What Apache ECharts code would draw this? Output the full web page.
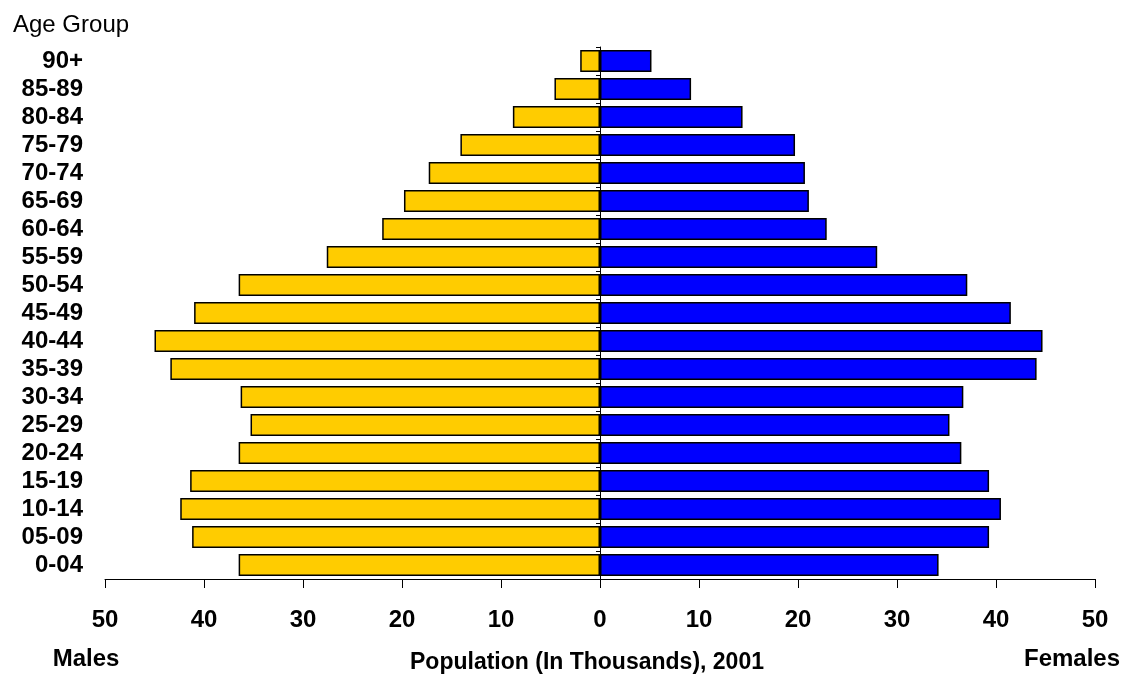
<!DOCTYPE html>
<html>
<head>
<meta charset="utf-8">
<script src="https://cdn.jsdelivr.net/npm/echarts@6/dist/echarts.min.js"></script>
<style>
html,body{margin:0;padding:0;background:#fff;}
#chart{width:1125px;height:679px;}
</style>
</head>
<body>
<div id="chart"></div>
<script>
// Age groups, bottom to top
const ageGroups = ['0-04','05-09','10-14','15-19','20-24','25-29','30-34','35-39','40-44','45-49','50-54','55-59','60-64','65-69','70-74','75-79','80-84','85-89','90+'];
// Population in thousands, 2001
const males   = [36.5, 41.2, 42.4, 41.4, 36.5, 35.3, 36.3, 43.4, 45.0, 41.0, 36.5, 27.6, 22.0, 19.8, 17.3, 14.1, 8.8, 4.6, 2.0];
const females = [34.2, 39.3, 40.5, 39.3, 36.5, 35.3, 36.7, 44.1, 44.7, 41.5, 37.1, 28.0, 22.9, 21.1, 20.7, 19.7, 14.4, 9.2, 5.2];
const xTicks = [-50, 50, 10]; // min, max, interval

const FONT = '"Liberation Sans", Arial, sans-serif';
const chart = echarts.init(document.getElementById('chart'), null, {renderer: 'canvas'});

const option = {
  backgroundColor: '#ffffff',
  animation: false,
  grid: {left: 105, right: 30, top: 47, bottom: 96, containLabel: false},
  xAxis: {
    type: 'value',
    min: xTicks[0], max: xTicks[1], interval: xTicks[2],
    name: 'Population (In Thousands), 2001',
    nameLocation: 'middle',
    nameGap: 72,
    nameTextStyle: {fontFamily: FONT, fontWeight: 'bold', fontSize: 23, color: '#000', padding: [0, 26, 0, 0]},
    axisLine: {show: true, onZero: false, lineStyle: {color: '#000', width: 1}},
    axisTick: {show: true, length: 9, lineStyle: {color: '#000', width: 1}},
    axisLabel: {
      margin: 29,
      fontFamily: FONT, fontWeight: 'bold', fontSize: 24, color: '#000',
      formatter: v => String(Math.abs(v))
    },
    splitLine: {show: false}
  },
  yAxis: [
    {
      type: 'category',
      data: ageGroups,
      position: 'left',
      axisLine: {show: false, onZero: false},
      axisTick: {show: false},
      axisLabel: {interval: 0, margin: 22, fontFamily: FONT, fontWeight: 'bold', fontSize: 24, color: '#000', hideOverlap: false},
      splitLine: {show: false}
    },
    {
      type: 'category',
      data: ageGroups,
      position: 'left',
      axisLine: {show: true, onZero: true, lineStyle: {color: '#000', width: 1}},
      axisTick: {show: true, length: 4, lineStyle: {color: '#000', width: 1}},
      axisLabel: {show: false},
      splitLine: {show: false}
    }
  ],
  series: [
    {
      name: 'Males',
      type: 'bar',
      stack: 'pop',
      yAxisIndex: 0,
      barWidth: '79%',
      data: males.map(v => -v),
      itemStyle: {color: '#FFCC00', borderColor: '#000', borderWidth: 1.5}
    },
    {
      name: 'Females',
      type: 'bar',
      stack: 'pop',
      yAxisIndex: 0,
      barWidth: '79%',
      data: females,
      itemStyle: {color: '#0000FF', borderColor: '#000', borderWidth: 1.5}
    }
  ],
  graphic: [
    {type: 'text', left: 13, top: 13, style: {text: 'Age Group', fontFamily: FONT, fontSize: 24, fill: '#000'}},
    {type: 'text', x: 86, y: 659, style: {text: 'Males', fontFamily: FONT, fontWeight: 'bold', fontSize: 24, fill: '#000', align: 'center', verticalAlign: 'middle'}},
    {type: 'text', x: 1072, y: 659, style: {text: 'Females', fontFamily: FONT, fontWeight: 'bold', fontSize: 24, fill: '#000', align: 'center', verticalAlign: 'middle'}}
  ]
};
chart.setOption(option);
</script>
</body>
</html>
